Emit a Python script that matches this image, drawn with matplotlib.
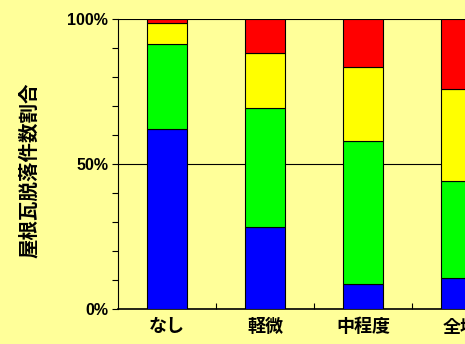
import matplotlib
matplotlib.use('Agg')
import matplotlib.pyplot as plt
import numpy as np

plt.rcParams['font.family'] = ['Liberation Sans', 'Noto Sans CJK JP']

categories = ['なし', '軽微', '中程度', '全壊']
blue = [62.1, 28.2, 8.5, 10.7]
green = [29.2, 41.0, 49.3, 33.4]
yellow = [7.2, 19.2, 25.5, 31.8]
red = [1.5, 11.6, 16.7, 24.1]
series = [blue, green, yellow, red]
colors = ['#0000FF', '#00FF00', '#FFFF00', '#FF0000']

bg = '#FFFF99'
fig = plt.figure(figsize=(4.65, 3.44), dpi=100, facecolor=bg)
ax = fig.add_axes([118/465, 35/344, 392/465, 290/344], facecolor=bg)

x = np.arange(len(categories))
bottom = np.zeros(len(categories))
for vals, c in zip(series, colors):
    ax.bar(x, vals, width=0.4, bottom=bottom, color=c, edgecolor='black',
           linewidth=0.8, zorder=3)
    bottom += np.array(vals)

ax.set_xlim(-0.5, 3.5)
ax.set_ylim(0, 100)

ax.set_yticks([0, 50, 100])
ax.set_yticklabels(['0%', '50%', '100%'], fontsize=11.5, fontweight='bold')
ax.set_yticks(np.arange(0, 101, 10), minor=True)
ax.yaxis.grid(True, which='major', color='black', linewidth=0.8, zorder=0)
ax.tick_params(axis='y', which='both', direction='out', length=4, width=0.8, pad=3)

ax.set_xticks(x)
ax.set_xticklabels(categories, fontsize=13, fontweight='bold',
                   family=['Noto Sans CJK JP'])
ax.set_xticks(np.arange(0.5, 3.5, 1), minor=True)
ax.tick_params(axis='x', which='major', length=0, pad=6)
ax.tick_params(axis='x', which='minor', direction='in', length=4, width=0.8)

for s in ['top', 'right']:
    ax.spines[s].set_visible(False)
ax.spines['left'].set_linewidth(0.8)
ax.spines['bottom'].set_linewidth(1.2)

fig.text(29/465, 1 - 170/344, '屋根瓦脱落件数割合', rotation=90, fontsize=14,
         fontweight='bold', family=['Noto Sans CJK JP'], ha='center', va='center')

fig.savefig('out.png', dpi=100, facecolor=bg)
